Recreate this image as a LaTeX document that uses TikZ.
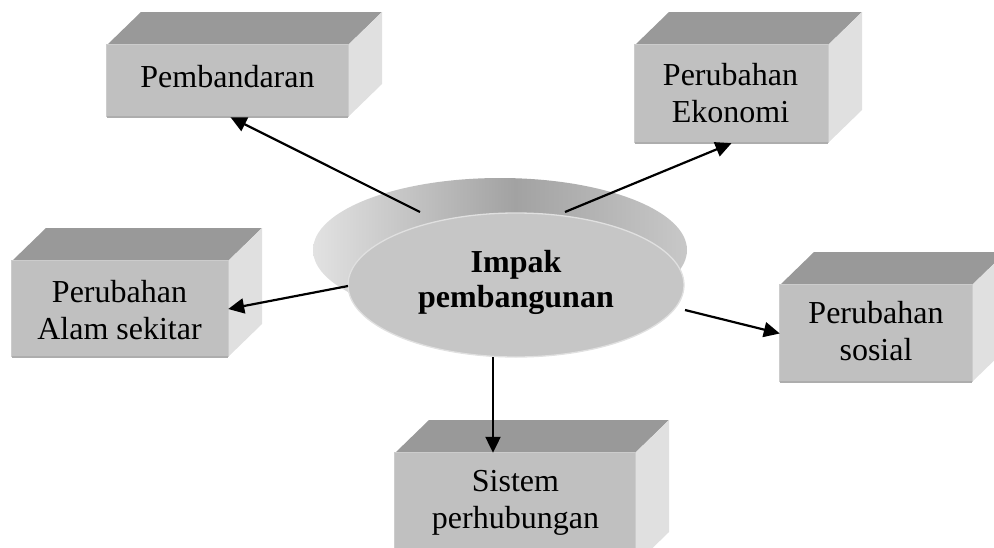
\documentclass[tikz,border=0pt]{standalone}
\usepackage{fontspec}
\setmainfont{Liberation Serif}
\usetikzlibrary{arrows.meta,shapes.geometric}
\definecolor{frontc}{HTML}{C0C0C0}
\definecolor{topc}{HTML}{999999}
\definecolor{sidec}{HTML}{E0E0E0}
\definecolor{edgelt}{HTML}{CCCCCC}
\definecolor{edgedk}{HTML}{ADADAD}
\definecolor{ellc}{HTML}{C6C6C6}
\definecolor{ellrim}{HTML}{E0E0E0}
\definecolor{extl}{HTML}{E2E2E2}
\definecolor{extm}{HTML}{A2A2A2}
\definecolor{extr}{HTML}{C8C8C8}
\pgfdeclarehorizontalshading{extshade}{100bp}{color(0bp)=(extl); color(25bp)=(extl); color(52bp)=(extm); color(75bp)=(extr); color(100bp)=(extr)}
\tikzset{
  face/.style={rectangle, fill=frontc, inner sep=0pt, draw=none},
  lbl/.style={inner sep=0pt, align=center, font=\fontsize{32}{37}\selectfont},
  arr/.style={line width=2.2pt, -{Triangle[length=16pt,width=15pt]}},
}
\newcommand{\cubebox}[5]{%
  \fill[topc] (#2,#3) -- (#2+34,#3-33) -- (#4+34,#3-33) -- (#4,#3) -- cycle;
  \fill[sidec] (#4,#3) -- (#4+34,#3-33) -- (#4+34,#5-33) -- (#4,#5) -- cycle;
  \node[face, minimum width={(#4-#2)*1pt}, minimum height={(#5-#3)*1pt}] (#1) at ({(#2+#4)/2},{(#3+#5)/2}) {};
  \draw[edgelt, line width=1pt] (#1.south west) -- (#1.north west) -- (#1.north east) -- (#1.south east);
  \draw[edgedk, line width=1.5pt] (#1.south west) -- (#1.south east);
}
\begin{document}
\begin{tikzpicture}[x=1pt,y=-1pt]
\useasboundingbox (0,0) rectangle (994,547);
\clip (0,0) rectangle (994,547);

% boxes
\cubebox{pemb}{107}{45}{348}{117}
\cubebox{ekon}{635}{45}{828}{143}
\cubebox{alam}{12}{261}{228}{357}
\cubebox{sos}{780}{285}{972}{382}
\cubebox{sis}{395}{453}{635}{565}

\node[lbl, anchor=base] (pembt) at (227.5,87) {Pembandaran};
\node[lbl] (ekont) at (730.5,92.8) {Perubahan\\Ekonomi};
\node[lbl] (alamt) at (119.5,309.8) {Perubahan\\Alam sekitar};
\node[lbl] (sost) at (876,330.8) {Perubahan\\sosial};
\node[lbl] (sist) at (515.5,503.2) {Sistem\\perhubungan};

% central extruded ellipse
\shade[shading=extshade, shading angle=0]
  (500,250) ellipse [x radius=187pt, y radius=72pt];
\node[ellipse, fill=ellc, draw=ellrim, line width=1.3pt, inner sep=0pt,
      minimum width=336pt, minimum height=144pt] (imp) at (516,285) {};
\node[lbl, font=\fontsize{32}{35}\selectfont\bfseries] (impt) at (516,282.3) {Impak\\pembangunan};

% connectors
\coordinate (s1) at (420,212);
\coordinate (s2) at (565,212);
\coordinate (s3) at (348,286);
\coordinate (s4) at (685,310);
\coordinate (s5) at (493,357);
\draw[arr] (s1) -- ([xshift=3pt]pemb.south);
\draw[arr] (s2) -- (ekon.south);
\draw[arr] (s3) -- (alam.east);
\draw[arr] (s4) -- (sos.west);
\draw[arr] (s5) -- (s5 |- sis.north);
\end{tikzpicture}
\end{document}
